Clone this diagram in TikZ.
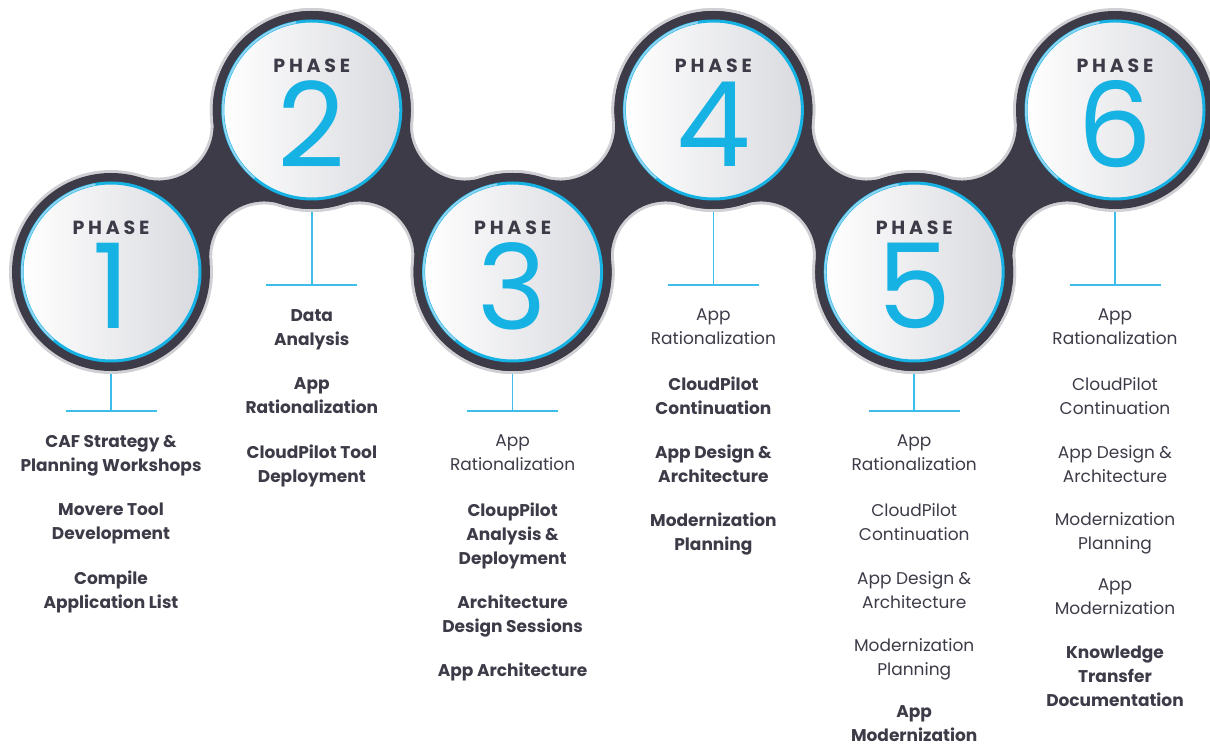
\documentclass[tikz,border=0pt]{standalone}
\usepackage{fontspec}
\setmainfont{Poppins}
\usetikzlibrary{positioning}
\definecolor{bandgray}{HTML}{CFD0D3}
\definecolor{banddark}{HTML}{3C3B47}
\definecolor{phaseblue}{HTML}{17B2E4}
\definecolor{ringlight}{HTML}{8ED3F0}
\definecolor{barblue}{HTML}{3DBDE9}
\definecolor{txt}{HTML}{3C3B47}
\definecolor{diskgray}{HTML}{D9DADF}
\tikzset{
  disk/.style={circle, minimum size=178pt, inner sep=0pt, draw=phaseblue,
    line width=3pt, left color=white, right color=diskgray},
  digit/.style={inner sep=0pt, text=phaseblue, font=\fontsize{118}{118}\selectfont},
  phaselbl/.style={inner sep=0pt, text=txt,
    font=\fontsize{19}{19}\selectfont\bfseries\addfontfeatures{LetterSpace=20}},
  bar/.style={draw=barblue, line width=1.5pt},
  item/.style={align=center, anchor=north, inner sep=0pt, text=txt,
    font=\fontsize{17}{24}\selectfont, execute at begin node=\strut},
  itemb/.style={item, font=\fontsize{17}{24}\selectfont\bfseries},
}
\begin{document}
\begin{tikzpicture}[x=1pt, y=1pt]
  \useasboundingbox (0,0) rectangle (1210,747);
  \coordinate (c1) at (111,475);
  \coordinate (c2) at (311.8,637);
  \coordinate (c3) at (512.6,475);
  \coordinate (c4) at (713.4,637);
  \coordinate (c5) at (914.2,475);
  \coordinate (c6) at (1115,637);
  \coordinate (t1) at (111,336);
  \coordinate (t2) at (311.8,462);
  \coordinate (t3) at (512.6,336);
  \coordinate (t4) at (713.4,462);
  \coordinate (t5) at (914.2,336);
  \coordinate (t6) at (1115,462);

  % stems and bars
  \foreach \i in {1,...,6} {
    \draw[bar] (c\i) -- (t\i);
    \draw[bar] ([xshift=-45.5pt]t\i) -- ([xshift=45.5pt]t\i);
  }

  % the chain: grey rim first, dark band on top
  \foreach \w/\col in {0/bandgray, 3/banddark}
    \foreach \a/\b/\s in {c1/c2/1, c2/c3/-1, c3/c4/1, c4/c5/-1, c5/c6/1} {
      \pgfmathsetmacro\R{102-\w}
      \pgfmathsetmacro\rr{52+\w}
      \pgfmathsetmacro\angA{72*\s}
      \pgfmathsetmacro\angB{252*\s}
      \pgfmathsetmacro\angC{365.8*\s}
      \pgfmathsetmacro\angD{185.8*\s}
      \fill[\col] (\a) circle[radius=\R] (\b) circle[radius=\R];
      \fill[\col] (\a) -- ++(\angA:\R)
        arc[start angle=\angB, end angle=\angC, radius=\rr]
        -- (\b) -- ++(\angB:\R)
        arc[start angle=\angA, end angle=\angD, radius=\rr] -- cycle;
    }

  % phase discs
  \foreach \i in {1,...,6} {
    \node[disk] (p\i) at (c\i) {};
    \draw[ringlight, line width=2pt] (c\i) ++(100:89)
      arc[start angle=100, end angle=230, radius=89];
    \node[phaselbl] (h\i) at ([yshift=44pt]c\i) {PHASE};
    \node[digit] (d\i) at ([yshift=-14pt]c\i) {\i};
  }

  % phase 1
  \node[itemb, below=24pt of t1] (a1) {CAF Strategy \&\\Planning Workshops};
  \node[itemb, below=68pt of a1.north] (a2) {Movere Tool\\Development};
  \node[itemb, below=68pt of a2.north] (a3) {Compile\\Application List};
  % phase 2
  \node[itemb, below=24pt of t2] (b1) {Data\\Analysis};
  \node[itemb, below=68pt of b1.north] (b2) {App\\Rationalization};
  \node[itemb, below=68pt of b2.north] (b3) {CloudPilot Tool\\Deployment};
  % phase 3
  \node[item, below=24pt of t3] (e1) {App\\Rationalization};
  \node[itemb, below=68pt of e1.north] (e2) {CloupPilot\\Analysis \&\\Deployment};
  \node[itemb, below=92pt of e2.north] (e3) {Architecture\\Design Sessions};
  \node[itemb, below=65pt of e3.north] (e4) {App Architecture};
  % phase 4
  \node[item, below=24pt of t4] (f1) {App\\Rationalization};
  \node[itemb, below=68pt of f1.north] (f2) {CloudPilot\\Continuation};
  \node[itemb, below=68pt of f2.north] (f3) {App Design \&\\Architecture};
  \node[itemb, below=68pt of f3.north] (f4) {Modernization\\Planning};
  % phase 5
  \node[item, below=24pt of t5] (g1) {App\\Rationalization};
  \node[item, below=68pt of g1.north] (g2) {CloudPilot\\Continuation};
  \node[item, below=68pt of g2.north] (g3) {App Design \&\\Architecture};
  \node[item, below=67pt of g3.north] (g4) {Modernization\\Planning};
  \node[itemb, below=67pt of g4.north] (g5) {App\\Modernization};
  % phase 6
  \node[item, below=24pt of t6] (k1) {App\\Rationalization};
  \node[item, below=68pt of k1.north] (k2) {CloudPilot\\Continuation};
  \node[item, below=68pt of k2.north] (k3) {App Design \&\\Architecture};
  \node[item, below=67pt of k3.north] (k4) {Modernization\\Planning};
  \node[item, below=67pt of k4.north] (k5) {App\\Modernization};
  \node[itemb, below=67pt of k5.north] (k6) {Knowledge\\Transfer\\Documentation};
\end{tikzpicture}
\end{document}
